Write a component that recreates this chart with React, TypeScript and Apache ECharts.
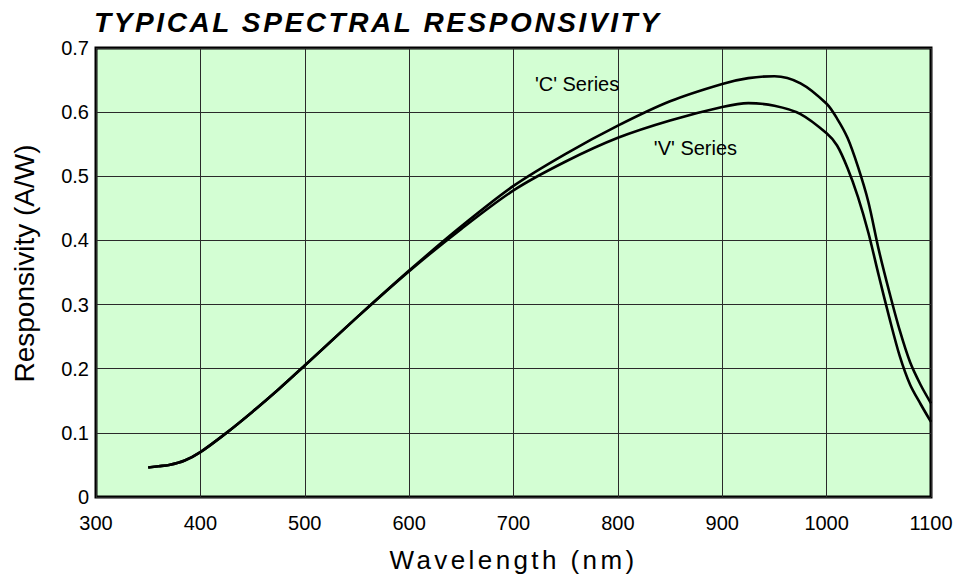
import React, { useEffect, useRef } from "react";
import * as echarts from "echarts";

const TITLE = "TYPICAL SPECTRAL RESPONSIVITY";
const X_NAME = "Wavelength (nm)";
const Y_NAME = "Responsivity (A/W)";

const wavelengths = [350, 360, 370, 385, 400, 425, 450, 475, 500, 550, 600, 650, 700, 750, 800, 850, 900, 925, 950, 975, 1000, 1010, 1020, 1030, 1040, 1050, 1060, 1070, 1080, 1090, 1100];
const cSeries = [0.046, 0.048, 0.05, 0.057, 0.07, 0.1, 0.133, 0.168, 0.205, 0.28, 0.353, 0.422, 0.485, 0.535, 0.579, 0.617, 0.644, 0.653, 0.656, 0.645, 0.613, 0.59, 0.56, 0.515, 0.46, 0.385, 0.32, 0.26, 0.21, 0.175, 0.146];
const vSeries = [0.046, 0.048, 0.05, 0.057, 0.07, 0.1, 0.133, 0.168, 0.205, 0.28, 0.352, 0.418, 0.478, 0.523, 0.56, 0.587, 0.608, 0.614, 0.61, 0.597, 0.567, 0.548, 0.513, 0.468, 0.412, 0.345, 0.28, 0.22, 0.175, 0.145, 0.117];

const cLabel = { text: "'C' Series", at: [720, 0.644] };
const vLabel = { text: "'V' Series", at: [834, 0.544] };

const FONT = "'Liberation Sans', Arial, Helvetica, sans-serif";

export default function App() {
  const ref = useRef<HTMLDivElement>(null);
  useEffect(() => {
    if (!ref.current) return;
    const chart = echarts.init(ref.current, null, { renderer: "svg" });
    const pair = (arr: number[]) => wavelengths.map((w, i) => [w, arr[i]]);
    const markLabel = (l: { text: string; at: number[] }) => ({
      symbol: "rect",
      symbolSize: 1,
      silent: true,
      itemStyle: { color: "rgba(0,0,0,0)" },
      label: {
        show: true,
        formatter: l.text,
        position: "right",
        distance: 0,
        color: "#000",
        fontSize: 20,
        fontFamily: FONT,
      },
      data: [{ coord: l.at, value: 0 }],
    });
    const applySpacing = () => {
      const el = ref.current;
      if (!el) return;
      el.querySelectorAll("text").forEach((t) => {
        const s = t.textContent || "";
        if (s === TITLE) t.setAttribute("letter-spacing", "2.6");
        else if (s === X_NAME) t.setAttribute("letter-spacing", "3.4");
      });
    };
    chart.on("rendered", applySpacing);
    chart.setOption({
      animation: false,
      title: {
        text: TITLE,
        left: 94,
        top: 8,
        padding: 0,
        textStyle: {
          fontFamily: FONT,
          fontSize: 28,
          fontWeight: "bold",
          fontStyle: "italic",
          color: "#000",
        },
      },
      grid: {
        left: 96,
        right: 23,
        top: 48,
        bottom: 84,
        show: true,
        backgroundColor: "#d3fed3",
        borderColor: "#000",
        borderWidth: 3,
        containLabel: false,
        outerBoundsMode: "none",
      },
      xAxis: {
        type: "value",
        min: 300,
        max: 1100,
        interval: 100,
        name: X_NAME,
        nameLocation: "middle",
        nameGap: 50,
        nameTextStyle: { fontFamily: FONT, fontSize: 26, color: "#000" },
        axisLine: { show: false },
        axisTick: { show: false },
        axisLabel: {
          fontFamily: FONT,
          fontSize: 20,
          color: "#000",
          margin: 16,
          formatter: (v: number) => String(v),
        },
        splitLine: { show: true, lineStyle: { color: "#2a2a2a", width: 1 } },
      },
      yAxis: {
        type: "value",
        min: 0,
        max: 0.7,
        interval: 0.1,
        name: Y_NAME,
        nameLocation: "middle",
        nameGap: 58,
        nameTextStyle: { fontFamily: FONT, fontSize: 28, color: "#000", padding: [0, 0, 0, 18] },
        axisLine: { show: false },
        axisTick: { show: false },
        axisLabel: {
          fontFamily: FONT,
          fontSize: 20,
          color: "#000",
          margin: 7,
          formatter: (v: number) => (v === 0 ? "0" : v.toFixed(1)),
        },
        splitLine: { show: true, lineStyle: { color: "#2a2a2a", width: 1 } },
      },
      series: [
        {
          name: "'C' Series",
          type: "line",
          data: pair(cSeries),
          smooth: 0.3,
          showSymbol: false,
          lineStyle: { color: "#000", width: 2.6 },
          z: 3,
          markPoint: markLabel(cLabel),
        },
        {
          name: "'V' Series",
          type: "line",
          data: pair(vSeries),
          smooth: 0.3,
          showSymbol: false,
          lineStyle: { color: "#000", width: 2.6 },
          z: 3,
          markPoint: markLabel(vLabel),
        },
      ],
    });
    applySpacing();
    return () => {
      chart.off("rendered", applySpacing);
      chart.dispose();
    };
  }, []);
  return <div ref={ref} style={{ width: 954, height: 581, position: "absolute", left: 0, top: 0 }} />;
}
